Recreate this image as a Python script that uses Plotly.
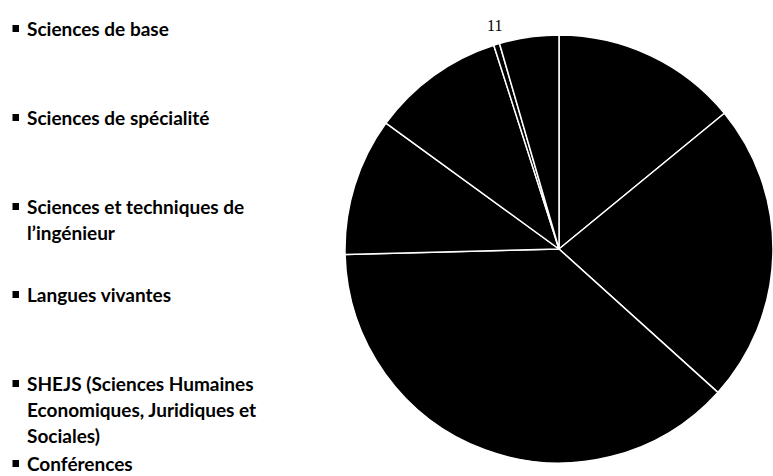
import plotly.graph_objects as go

# Data
categories = [
    "Sciences de base",
    "Sciences de spécialité",
    "Sciences et techniques de<br>l\u2019ingénieur",
    "Langues vivantes",
    "SHEJS (Sciences Humaines<br>Economiques, Juridiques et<br>Sociales)",
    "Conférences",
    "Autres",
]
values = [348, 560, 938, 258, 249, 11, 111]
labelled_slice = 5  # only this slice's value is readable (outside the pie)

W, H = 773, 476
fig = go.Figure()

fig.add_trace(go.Pie(
    labels=categories,
    values=values,
    sort=False,
    direction="clockwise",
    rotation=0,
    marker=dict(colors=["#000000"] * len(values), line=dict(color="#ffffff", width=1.5)),
    textinfo="none",
    domain=dict(x=[345 / W, 1.0], y=[(H - 249 - 214) / H, (H - 249 + 214) / H]),
    showlegend=False,
    hovertemplate="%{label}: %{value}<extra></extra>",
))

annotations = []
shapes = []

# value label of the tiny slice, placed outside the pie
annotations.append(dict(
    x=494 / W, y=1 - 25 / H, xref="paper", yref="paper",
    text=str(values[labelled_slice]), showarrow=False,
    xanchor="center", yanchor="middle",
    font=dict(family="Liberation Serif", size=16, color="#000000"),
))

# Manual legend (evenly spaced entries, like the original)
entry_top = [28, 117, 206, 294, 383, 463]
line_gap = 26
for i, y0 in enumerate(entry_top):
    lines = categories[i].split("<br>")
    for j, ln in enumerate(lines):
        yy = y0 + j * line_gap
        annotations.append(dict(
            x=25 / W, y=1 - yy / H, xref="paper", yref="paper",
            text=ln, showarrow=False, xanchor="left", yanchor="middle",
            font=dict(family="Lato", size=19, color="#000000", weight="bold"),
        ))
    shapes.append(dict(
        type="rect", xref="paper", yref="paper",
        x0=12.5 / W, x1=19 / W, y0=1 - (y0 + 4) / H, y1=1 - (y0 - 3) / H,
        fillcolor="#000000", line=dict(width=0),
    ))

fig.update_layout(
    width=W, height=H,
    margin=dict(l=0, r=0, t=0, b=0),
    paper_bgcolor="#ffffff",
    plot_bgcolor="#ffffff",
    annotations=annotations,
    shapes=shapes,
)

fig.write_html("out.html", config={"displayModeBar": False},
               post_script="document.body.style.margin='0';")
